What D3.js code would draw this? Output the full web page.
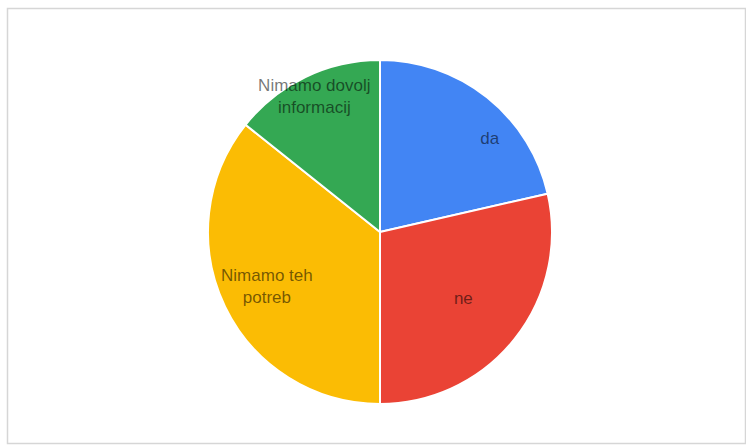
<!DOCTYPE html>
<html>
<head>
<meta charset="utf-8">
<script src="https://cdn.jsdelivr.net/npm/d3@7/dist/d3.min.js"></script>
<style>
  html, body { margin: 0; padding: 0; background: #fff; }
  svg { display: block; }
</style>
</head>
<body>
<svg id="chart" width="746" height="448"></svg>
<script>
// Survey answers and their counts
const categories = ["da", "ne", "Nimamo teh potreb", "Nimamo dovolj informacij"];
const values = [6, 8, 10, 4];
const colors = ["#4285F4", "#EA4335", "#FBBC04", "#34A853"];

const W = 746, H = 448;
const cx = 380, cy = 232, R = 172;

const svg = d3.select("#chart");

// outer frame
svg.append("rect")
  .attr("x", 7.5).attr("y", 8.5)
  .attr("width", 738).attr("height", 435)
  .attr("fill", "#fff")
  .attr("stroke", "#d6d6d6")
  .attr("stroke-width", 1.5);

const data = categories.map((c, i) => ({ name: c, value: values[i], color: colors[i] }));

const pie = d3.pie().value(d => d.value).sort(null);
const arcs = pie(data);
const arc = d3.arc().innerRadius(0).outerRadius(R);

const g = svg.append("g").attr("transform", `translate(${cx},${cy})`);

g.selectAll("path.slice")
  .data(arcs)
  .join("path")
  .attr("class", "slice")
  .attr("d", arc)
  .attr("fill", d => d.data.color)
  .attr("stroke", "#fff")
  .attr("stroke-width", 2)
  .attr("stroke-linejoin", "round");

// label placement: radius fraction and angular nudge per slice
const labelPlace = {
  "da": { r: 0.84, da: 0.19 },
  "ne": { r: 0.62, da: 0 },
  "Nimamo teh potreb": { r: 0.73, da: 0 },
  "Nimamo dovolj informacij": { r: 0.88, da: 0 }
};
const labelLines = {
  "Nimamo teh potreb": ["Nimamo teh", "potreb"],
  "Nimamo dovolj informacij": ["Nimamo dovolj", "informacij"]
};

const fontSize = 17, lineH = 22;

arcs.forEach(d => {
  const p = labelPlace[d.data.name];
  const a = (d.startAngle + d.endAngle) / 2 + p.da;
  const r = R * p.r;
  const x = Math.sin(a) * r, y = -Math.cos(a) * r;
  const lines = labelLines[d.data.name] || [d.data.name];
  const t = g.append("text")
    .attr("x", x)
    .attr("y", y - (lines.length - 1) * lineH / 2)
    .attr("text-anchor", "middle")
    .attr("dominant-baseline", "central")
    .attr("font-family", "Liberation Sans, Arial, sans-serif")
    .attr("font-size", fontSize)
    .attr("fill", "#000")
    .attr("fill-opacity", 0.55);
  lines.forEach((ln, i) => {
    t.append("tspan")
      .attr("x", x)
      .attr("dy", i === 0 ? 0 : lineH)
      .text(ln);
  });
});
</script>
</body>
</html>
